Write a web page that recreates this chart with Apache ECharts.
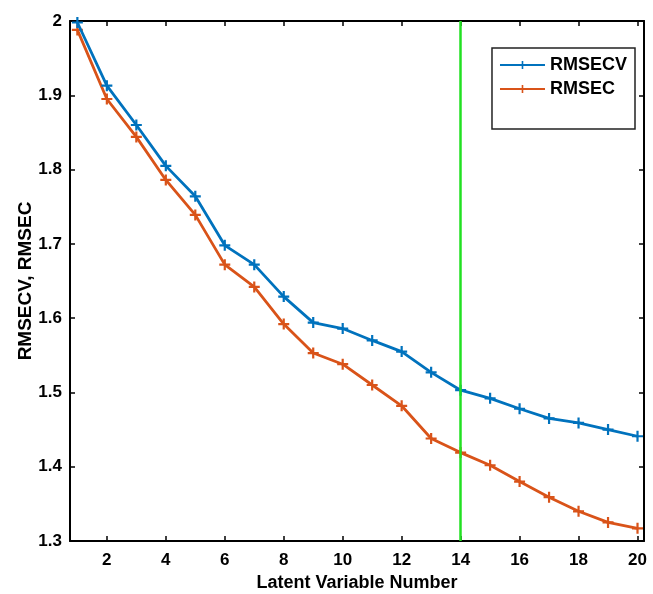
<!DOCTYPE html>
<html>
<head>
<meta charset="utf-8">
<script src="https://cdn.jsdelivr.net/npm/echarts@6/dist/echarts.min.js"></script>
<style>
  html, body { margin: 0; padding: 0; background: #fff; }
  #chart { width: 653px; height: 594px; }
</style>
</head>
<body>
<div id="chart"></div>
<script>
// latent variable numbers
var lvNumbers = [1, 2, 3, 4, 5, 6, 7, 8, 9, 10, 11, 12, 13, 14, 15, 16, 17, 18, 19, 20]
var rmsecv = [1.998, 1.913, 1.860, 1.805, 1.764, 1.698, 1.672, 1.629, 1.594, 1.586,
  1.570, 1.555, 1.527, 1.503, 1.492, 1.478, 1.465, 1.459, 1.450, 1.441]
var rmsec = [1.988, 1.895, 1.844, 1.786, 1.739, 1.672, 1.642, 1.592, 1.553, 1.538,
  1.510, 1.482, 1.438, 1.419, 1.402, 1.380, 1.359, 1.340, 1.325, 1.317]
var xTicks = [2, 4, 6, 8, 10, 12, 14, 16, 18, 20]
var selectedLV = 14

var font = '"Liberation Sans", Arial, sans-serif'
var plus = 'path://M4,0H6V4H10V6H6V10H4V6H0V4H4Z'

function pairs(ys) {
  return lvNumbers.map(function (x, i) { return [x, ys[i]] })
}

var tickStyle = { inside: true, length: 5, lineStyle: { color: '#000', width: 1.5 } }
var lineAxis = { show: true, onZero: false, lineStyle: { color: '#000', width: 2 } }

var chart = echarts.init(document.getElementById('chart'))
chart.setOption({
  backgroundColor: '#fff',
  animation: false,
  grid: { left: 70, top: 21, right: 9, bottom: 53, containLabel: false, outerBoundsMode: 'none' },
  legend: {
    orient: 'vertical',
    right: 18,
    top: 48,
    itemWidth: 45,
    itemHeight: 10,
    itemGap: 6,
    padding: [8, 8, 31, 7],
    borderColor: '#222',
    borderWidth: 1.5,
    textStyle: { fontFamily: font, fontWeight: 'bold', fontSize: 18, color: '#000' },
    data: ['RMSECV', 'RMSEC']
  },
  xAxis: [{
    type: 'value',
    min: 0.75,
    max: 20.22,
    position: 'bottom',
    name: 'Latent Variable Number',
    nameLocation: 'middle',
    nameGap: 33,
    nameMoveOverlap: false,
    nameTextStyle: { fontFamily: font, fontWeight: 'bold', fontSize: 18, color: '#000' },
    axisLine: lineAxis,
    axisTick: Object.assign({ customValues: xTicks }, tickStyle),
    axisLabel: { customValues: xTicks, fontFamily: font, fontWeight: 'bold', fontSize: 17, color: '#000', margin: 11 },
    splitLine: { show: false }
  }, {
    type: 'value',
    min: 0.75,
    max: 20.22,
    position: 'top',
    axisLine: lineAxis,
    axisTick: Object.assign({ customValues: xTicks }, tickStyle),
    axisLabel: { show: false },
    splitLine: { show: false }
  }],
  yAxis: [{
    type: 'value',
    min: 1.3,
    max: 2,
    interval: 0.1,
    position: 'left',
    name: 'RMSECV, RMSEC',
    nameLocation: 'middle',
    nameGap: 35,
    nameMoveOverlap: false,
    nameTextStyle: { fontFamily: font, fontWeight: 'bold', fontSize: 19, color: '#000' },
    axisLine: lineAxis,
    axisTick: tickStyle,
    axisLabel: {
      fontFamily: font, fontWeight: 'bold', fontSize: 17, color: '#000', margin: 8,
      formatter: function (v) { return Math.abs(v - 2) < 1e-6 ? '2' : v.toFixed(1) }
    },
    splitLine: { show: false }
  }, {
    type: 'value',
    min: 1.3,
    max: 2,
    interval: 0.1,
    position: 'right',
    axisLine: lineAxis,
    axisTick: tickStyle,
    axisLabel: { show: false },
    splitLine: { show: false }
  }],
  series: [{
    name: 'RMSECV',
    type: 'line',
    data: pairs(rmsecv),
    symbol: plus,
    symbolSize: 11,
    color: '#0072BD',
    lineStyle: { width: 2.8 },
    z: 3,
    markLine: {
      silent: true,
      symbol: 'none',
      label: { show: false },
      lineStyle: { color: '#22e022', width: 2.5, type: 'solid' },
      data: [{ xAxis: selectedLV }]
    }
  }, {
    name: 'RMSEC',
    type: 'line',
    data: pairs(rmsec),
    symbol: plus,
    symbolSize: 11,
    color: '#D95319',
    lineStyle: { width: 2.8 },
    z: 2
  }]
})
</script>
</body>
</html>
